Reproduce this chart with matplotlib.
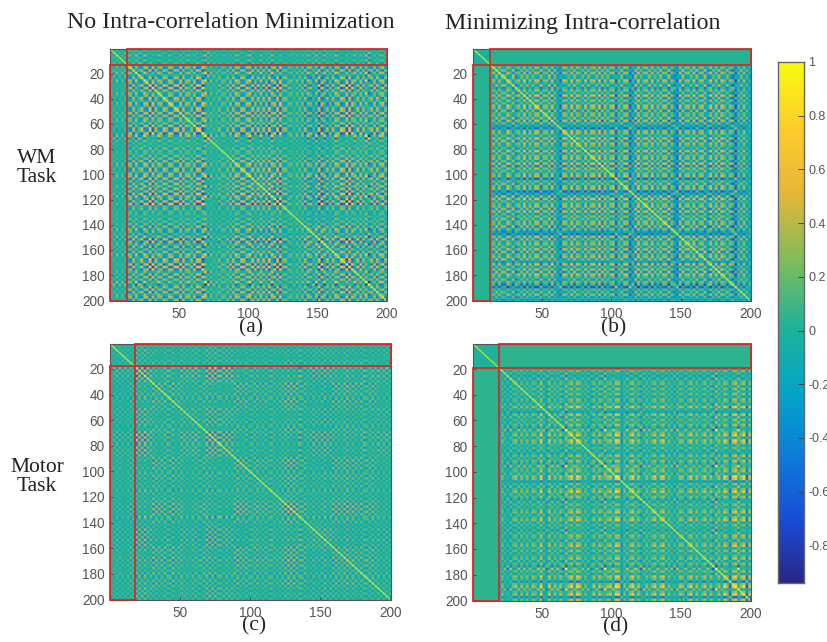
import numpy as np
import matplotlib
matplotlib.use("Agg")
import matplotlib.pyplot as plt
from matplotlib.colors import LinearSegmentedColormap
from matplotlib.patches import Rectangle

W, H = 828, 642
plt.rcParams["font.family"] = ["Liberation Sans", "DejaVu Sans"]

# Strength of each 2-row/2-column stripe (100 entries)
stripes_a = [0.2,-0.3,0.3,-0.2,0.2,-0.3,0.2,-0.4,0.4,0.5,-0.5,0.6,0.3,-0.7,0.8,-0.9,0.7,0.4,-0.4,0.5,
             0.3,-0.3,-0.5,0.6,0.5,-0.4,0.4,-0.3,0.3,0.4,-0.5,0.6,0.7,-1.0,0.9,-0.8,0.3,-0.2,0.2,0.3,
             -0.1,0.1,0.3,-0.4,0.4,0.3,-0.4,0.5,0.5,-0.5,0.6,0.5,-0.6,0.7,0.4,0.5,-0.6,0.6,0.7,-1.0,
             0.9,-0.9,0.3,0.4,-0.3,0.2,-0.1,0.1,0.2,-0.1,0.5,0.4,-0.5,-0.3,0.6,0.7,-1.0,0.8,0.4,-0.3,
             0.3,0.6,-0.5,0.7,0.6,-0.8,0.9,-0.9,0.6,0.5,-0.4,0.3,0.8,-1.0,0.7,-0.4,0.4,0.5,-0.3,0.3]
stripes_b = [0.1,0.1,0.1,0.1,0.1,0.1,0.2,0.5,0.7,0.4,0.8,0.5,0.7,0.3,0.8,-0.3,0.7,0.5,0.9,0.4,
             0.7,0.5,0.8,0.6,0.4,0.7,0.5,0.8,0.3,0.5,-0.4,-0.6,0.5,0.7,0.4,0.8,0.6,0.7,0.5,0.3,
             0.7,0.4,0.8,0.6,0.5,0.7,0.3,0.8,0.6,0.4,0.7,-0.6,0.5,0.8,0.4,0.6,-0.7,-0.4,0.7,0.8,
             0.5,0.4,0.8,0.6,0.7,0.3,0.6,0.8,0.4,0.6,0.7,0.3,-0.6,-0.7,0.6,0.8,0.4,0.7,0.6,0.8,
             0.5,0.3,0.7,0.8,-0.5,0.6,0.4,0.7,0.6,0.8,0.4,0.6,0.5,-0.5,-0.7,0.4,0.6,0.5,0.3,-0.2]
stripes_c = [0.1,-0.2,0.2,-0.1,0.2,-0.2,0.1,0.2,-0.3,-0.7,0.5,-0.6,0.6,-0.4,0.4,0.5,-0.4,0.4,-0.3,0.2,
             0.3,-0.3,0.4,-0.3,0.3,0.2,-0.3,0.3,-0.2,0.3,-0.2,0.2,-0.3,0.3,0.5,-0.5,0.6,-0.6,0.5,0.4,
             -0.5,0.5,-0.5,0.5,0.4,-0.5,0.5,-0.4,0.3,-0.3,0.2,0.2,-0.3,0.2,-0.2,0.2,-0.2,0.2,0.1,-0.2,
             0.2,-0.2,0.5,-0.5,0.6,-0.6,0.5,0.5,-0.4,0.3,0.2,-0.2,0.3,-0.3,0.3,-0.2,0.3,-0.4,0.4,0.3,
             -0.3,0.4,-0.3,0.3,-0.3,0.2,-0.3,0.3,-0.2,0.2,0.3,-0.3,0.2,-0.2,0.2,0.3,-0.2,0.2,-0.2,0.2]
stripes_d = [0.1,0.1,0.1,0.1,0.1,0.1,0.1,0.1,0.1,-0.2,0.2,0.3,-0.3,0.3,0.2,0.4,0.3,0.2,0.4,0.3,
             0.2,0.3,0.2,0.4,0.8,0.3,-0.5,0.7,0.4,0.3,0.5,0.4,-0.4,1.0,0.4,0.8,0.3,0.9,0.5,0.3,
             0.2,0.3,-0.2,0.4,0.3,0.5,-0.3,1.0,0.4,0.6,0.4,1.0,0.8,-0.4,0.3,0.5,0.3,0.8,0.5,0.6,
             -0.4,0.4,0.3,0.4,0.2,0.6,0.3,0.5,0.7,0.3,0.2,0.4,-0.3,0.5,0.4,0.3,0.2,0.3,0.6,0.3,
             0.4,0.3,0.2,0.5,0.3,0.4,-0.5,1.0,0.4,0.3,0.8,0.4,-0.4,0.7,1.0,0.8,0.4,0.9,-0.5,0.6]

# Finer alternation, one value per cell group (100 entries)
grain_a = [0.3,-0.4,0.5,-0.3,0.4,-0.5,0.6,0.7,-0.8,0.9,-0.6,-0.7,1.0,0.5,-0.9,0.8,-0.5,0.7,0.6,-0.8,
           -0.4,0.9,0.5,-0.7,-0.6,1.0,-0.8,0.6,0.7,-0.5,0.8,-0.9,-0.6,0.9,1.0,-0.7,0.5,-0.4,0.3,-0.5,
           0.4,0.3,-0.5,0.6,-0.7,0.9,0.6,-0.8,-0.5,0.7,1.0,-0.9,0.5,-0.6,0.8,-0.7,0.6,-1.0,0.9,0.5,
           -0.8,1.0,-0.4,-0.5,0.3,0.4,-0.3,0.5,-0.4,0.6,-0.7,0.8,0.5,-0.6,0.9,-1.0,0.7,0.6,-0.8,0.5,
           -0.7,0.9,0.6,-0.8,-0.5,1.0,-0.9,0.7,0.5,-0.7,0.8,-0.6,1.0,-0.9,-0.5,0.7,-0.8,0.6,0.9,-0.7]
grain_b = [0.1,-0.2,0.3,-0.2,0.2,-0.3,0.2,0.6,-0.7,0.8,-0.5,-0.6,0.9,0.4,-0.8,0.7,0.5,-0.6,0.9,-0.7,
           0.6,-0.5,0.8,0.7,-0.9,0.4,0.6,-0.8,1.0,-0.6,0.5,-0.7,0.8,0.6,-0.5,0.9,-0.8,0.7,0.4,-0.6,
           0.9,-0.7,0.5,0.8,-0.6,1.0,-0.9,0.6,-0.5,0.7,0.8,-0.8,0.5,-0.6,0.9,0.7,-0.7,0.6,-0.9,1.0,
           -0.5,0.7,0.6,-0.8,0.9,-0.6,0.5,-0.7,0.8,0.6,-1.0,0.7,0.5,-0.6,0.9,-0.8,0.6,0.7,-0.5,0.8,
           -0.9,0.6,0.7,-0.8,0.5,1.0,-0.6,0.7,-0.9,0.8,0.5,-0.7,0.6,0.9,-0.8,0.5,-0.6,0.7,-0.5,0.4]
grain_c = [0.3,-0.4,0.5,-0.5,0.4,-0.3,0.5,-0.6,0.7,-0.9,0.8,-0.7,0.9,-0.6,0.5,-0.8,0.7,-0.5,0.6,-0.7,
           0.5,0.6,-0.8,0.4,-0.5,0.7,-0.6,0.5,-0.4,0.6,-0.7,0.5,0.4,-0.6,0.8,-0.9,0.7,-0.8,0.6,0.5,
           -0.6,0.7,-0.6,0.5,-0.6,0.8,-0.5,0.6,-0.7,0.4,0.5,-0.6,0.7,-0.4,0.5,-0.6,0.4,0.6,-0.5,0.4,
           -0.5,0.6,-0.8,0.9,-0.7,0.8,-0.6,0.7,0.5,-0.6,0.4,-0.5,0.7,-0.6,0.5,-0.7,0.8,-0.5,0.6,-0.8,
           0.7,-0.6,0.5,-0.8,0.9,-0.5,0.7,-0.6,0.4,-0.7,0.6,0.5,-0.6,0.7,-0.5,0.6,-0.4,0.5,-0.6,0.4]
grain_d = [0.2,-0.2,0.3,-0.3,0.2,-0.2,0.3,-0.2,0.2,-0.9,0.6,-0.5,0.7,-0.8,0.5,0.6,-0.7,0.8,-0.5,0.6,
           -0.6,0.7,0.5,-0.8,0.9,-0.6,0.5,0.8,-0.7,0.6,-0.5,0.7,0.8,-0.9,0.6,0.9,-0.6,0.8,0.7,-0.5,
           0.6,-0.7,0.5,0.8,-0.6,0.7,0.9,-0.8,0.5,0.6,-0.7,0.9,0.8,-0.5,0.6,-0.8,0.7,0.9,-0.6,0.5,
           0.8,-0.7,0.6,-0.5,0.7,0.8,-0.6,0.5,0.9,-0.7,0.6,-0.5,0.8,-0.6,0.7,0.5,-0.8,0.6,0.9,-0.5,
           0.7,-0.6,0.5,0.8,-0.7,0.6,0.9,-1.0,0.7,-0.5,0.9,0.6,-0.8,0.7,1.0,-0.9,0.6,1.0,-0.7,0.8]

# Mean level over 20x20-cell regions
levels_a = [[.02,.00,.00,.00,.00,.00,.00,.00,.00,.00],[.00,.02,.02,.02,.02,.00,.02,-.04,.02,.02],
            [.00,.02,.02,.02,.02,.02,.02,-.06,.02,.02],[-.02,.02,.02,.02,.00,.00,.00,-.04,.02,.02],
            [.00,.02,.02,.00,.02,.02,.02,-.02,.02,.02],[.00,.02,.02,.00,.02,.02,.00,-.04,.02,.02],
            [.00,.00,.00,.00,.00,.00,.02,-.04,.00,.00],[.00,-.02,-.02,-.02,.00,-.02,-.02,.02,.00,-.02],
            [.00,.02,.02,.02,.02,.02,.00,.00,.02,.02],[.00,.02,.02,.02,.02,.02,.00,-.02,.02,.02]]
levels_b = [[-.02,-.08,-.08,-.08,-.08,-.08,-.08,-.08,-.08,-.08],[-.08,-.06,-.08,-.08,-.08,-.08,-.08,-.10,-.08,-.10],
            [-.08,-.08,-.06,-.08,-.08,-.08,-.08,-.10,-.08,-.10],[-.08,-.08,-.08,-.06,-.08,-.10,-.08,-.10,-.08,-.10],
            [-.08,-.08,-.08,-.08,-.06,-.08,-.08,-.10,-.08,-.10],[-.08,-.08,-.10,-.10,-.08,-.06,-.08,-.10,-.08,-.10],
            [-.08,-.08,-.08,-.08,-.08,-.08,-.06,-.10,-.08,-.10],[-.08,-.10,-.10,-.10,-.10,-.10,-.10,-.06,-.10,-.10],
            [-.08,-.08,-.08,-.08,-.08,-.08,-.08,-.10,-.06,-.10],[-.08,-.10,-.10,-.10,-.10,-.10,-.10,-.10,-.10,-.08]]
levels_c = [[.00,.00,.00,.00,.00,.00,.00,.00,.00,.00],[-.02,.00,.00,.00,.00,.00,.00,-.02,.00,.00],
            [-.02,.00,.00,.00,.00,.00,.00,-.02,.00,.00],[-.02,.00,.00,.00,.00,.00,.00,-.02,.00,.00],
            [.00,.00,.00,.00,.00,.00,.00,-.02,.00,.00],[.00,.00,.00,.00,.00,.00,.00,.00,.00,.00],
            [-.02,.00,.00,.00,.00,.00,.00,.00,.00,.00],[-.02,-.02,-.02,-.02,-.02,.00,.00,.00,-.02,-.02],
            [.00,.00,.00,.00,.00,.00,.00,-.02,.00,.00],[.00,.00,.00,.00,.00,.00,.00,-.02,.00,.00]]
levels_d = [[.00,-.04,-.04,-.04,-.04,-.04,-.04,-.04,-.04,-.04],[-.04,-.04,-.04,-.04,-.04,-.04,-.04,-.04,-.04,-.04],
            [-.04,-.04,-.04,-.04,-.04,-.06,-.04,-.04,-.04,-.04],[-.04,-.04,-.04,-.04,-.06,-.04,-.04,-.04,-.04,-.04],
            [-.04,-.04,-.04,-.06,-.04,-.04,-.04,-.04,-.04,-.04],[-.04,-.04,-.06,-.04,-.04,-.04,-.04,-.06,-.04,-.04],
            [-.04,-.04,-.04,-.04,-.04,-.04,-.04,-.04,-.04,-.04],[-.04,-.04,-.04,-.04,-.04,-.06,-.04,-.04,-.04,-.04],
            [-.04,-.04,-.04,-.04,-.04,-.04,-.04,-.04,-.04,-.04],[-.04,-.04,-.04,-.04,-.04,-.04,-.04,-.04,-.04,-.04]]

block_sizes = [13, 13, 18, 19]
outside_levels = [None, 0.03, None, 0.05]
stripe_gains = [0.42, 0.38, 0.45, 0.55]
grain_gains = [0.55, 0.58, 0.48, 0.40]
panel_labels = ["(a)", "(b)", "(c)", "(d)"]
x_ticks = [50, 100, 150, 200]
y_ticks = [20, 40, 60, 80, 100, 120, 140, 160, 180, 200]
cbar_ticks = [-0.8, -0.6, -0.4, -0.2, 0, 0.2, 0.4, 0.6, 0.8, 1]
cbar_labels = ["-0.8", "-0.6", "-0.4", "-0.2", "0", "0.2", "0.4", "0.6", "0.8", "1"]

parula = LinearSegmentedColormap.from_list("parula", [
    (0.00, (0.17, 0.15, 0.52)), (0.12, (0.10, 0.30, 0.85)), (0.25, (0.05, 0.50, 0.86)),
    (0.37, (0.02, 0.65, 0.78)), (0.49, (0.12, 0.70, 0.60)), (0.62, (0.50, 0.74, 0.36)),
    (0.75, (0.90, 0.72, 0.22)), (0.87, (0.99, 0.80, 0.18)), (1.00, (0.98, 0.98, 0.06))])
VMIN, VMAX = -0.94, 1.0
GRAY = "#555555"
RED = "#d62a2a"

fig = plt.figure(figsize=(W / 100, H / 100), dpi=100)


def px_axes(x0, y0, x1, y1):
    return fig.add_axes([x0 / W, 1 - y1 / H, (x1 - x0) / W, (y1 - y0) / H])


def build(levels, stripes, grain, g1, g2, block, outside):
    s = np.repeat(np.array(stripes), 2)
    t = np.repeat(np.array(grain), 2)
    m = np.kron(np.array(levels), np.ones((20, 20))) + g1 * np.outer(s, s) + g2 * np.outer(t, t)
    if outside is not None:
        m[:block, block:] = outside
        m[block:, :block] = outside
    np.fill_diagonal(m, 1.0)
    return m


boxes = [(110, 49, 387, 301), (473, 49, 751, 301), (110, 344, 391, 600), (473, 344, 751, 601)]
levels = [levels_a, levels_b, levels_c, levels_d]
stripes = [stripes_a, stripes_b, stripes_c, stripes_d]
grains = [grain_a, grain_b, grain_c, grain_d]

for i, box in enumerate(boxes):
    ax = px_axes(*box)
    m = build(levels[i], stripes[i], grains[i], stripe_gains[i], grain_gains[i],
              block_sizes[i], outside_levels[i])
    ax.imshow(m, cmap=parula, vmin=VMIN, vmax=VMAX, aspect="auto", interpolation="bilinear",
              interpolation_stage="rgba", extent=(0.5, 200.5, 200.5, 0.5))
    ax.set_xticks(x_ticks)
    ax.set_yticks(y_ticks)
    ax.tick_params(direction="in", length=2.2, width=0.6, color="#444444", labelcolor=GRAY,
                   labelsize=9.8, pad=4)
    for sp in ax.spines.values():
        sp.set_color("#555555")
        sp.set_linewidth(0.8)
    b = block_sizes[i]
    for xy, w, h in [((b, 0.5), 200.5 - b, b - 0.5), ((0.5, b), b - 0.5, 200.5 - b)]:
        ax.add_patch(Rectangle(xy, w, h, fill=False, ec=RED, lw=1.3, clip_on=False, zorder=5))

cax = px_axes(778, 62, 804, 583)
gradient = np.linspace(VMAX, VMIN, 256).reshape(-1, 1)
cax.imshow(gradient, cmap=parula, vmin=VMIN, vmax=VMAX, aspect="auto", extent=(0, 1, VMIN, VMAX))
cax.set_xticks([])
cax.yaxis.tick_right()
cax.set_yticks(cbar_ticks)
cax.set_yticklabels(cbar_labels)
cax.tick_params(direction="in", length=4, width=0.7, color="#444444", labelcolor=GRAY,
                labelsize=9, pad=3)
for sp in cax.spines.values():
    sp.set_color("#666666")
    sp.set_linewidth(1.0)


def label(x, y, s, size):
    fig.text(x / W, 1 - y / H, s, family="Liberation Serif", fontsize=size, color="#222222",
             ha="center", va="center", linespacing=1.05)


label(231, 23, "No Intra-correlation Minimization", 17.2)
label(583, 23, "Minimizing Intra-correlation", 17.2)
label(37, 168, "WM\nTask", 15.5)
label(37, 477, "Motor\nTask", 15.5)
for (x, y), s in zip([(251, 328), (614, 328), (254, 626), (616, 627)], panel_labels):
    label(x, y, s, 15.5)

fig.savefig("out.png", dpi=100)
